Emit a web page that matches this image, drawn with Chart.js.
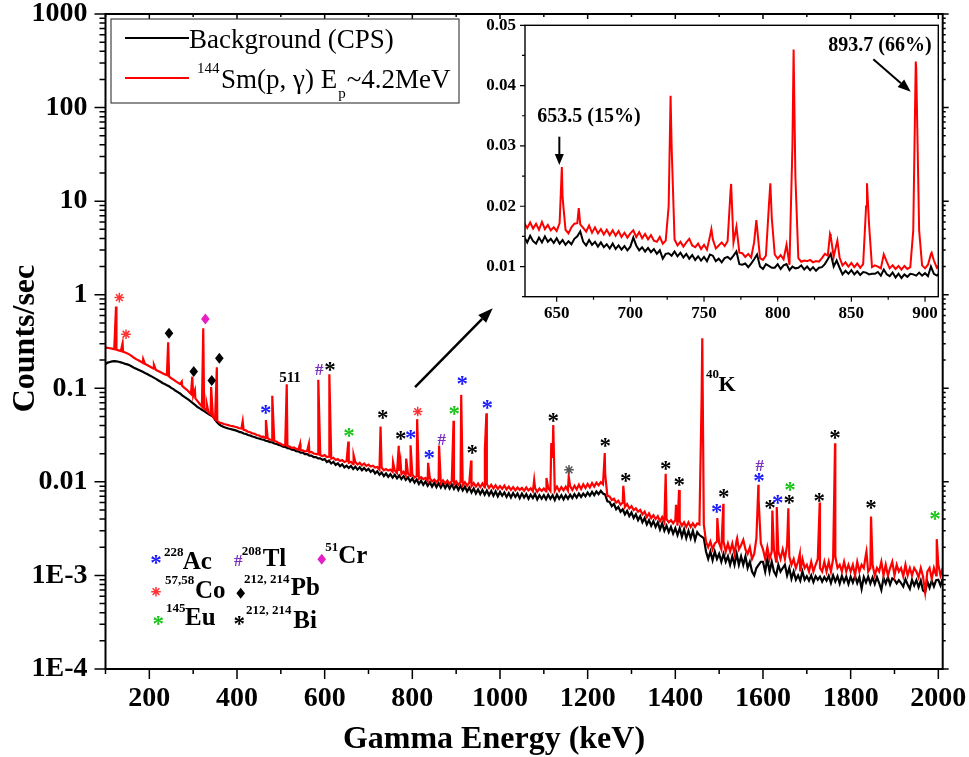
<!DOCTYPE html>
<html><head><meta charset="utf-8">
<script src="https://cdn.jsdelivr.net/npm/chart.js@4/dist/chart.umd.min.js"></script>
<style>
html,body{margin:0;padding:0;background:#fff;}
#wrap{position:relative;width:969px;height:757px;overflow:hidden;}
#main{position:absolute;left:0;top:0;width:969px;height:757px;}
#inset{position:absolute;left:470px;top:0;width:499px;height:340px;}
</style></head><body>
<div id="wrap"><canvas id="main" width="969" height="757"></canvas><canvas id="inset" width="499" height="340"></canvas></div>
<script>
// ---------------- DATA ----------------
// main spectrum: regular 5 keV grid starting at 100 keV
const MAIN_START_KEV = 100, MAIN_STEP_KEV = 5;
const mainRedCps = [
0.272,0.270,0.268,0.265,0.262,0.258,0.254,0.250,0.246,0.241,
0.236,0.229,0.221,0.212,0.205,0.199,0.193,0.187,0.182,0.177,
0.172,0.167,0.162,0.157,0.153,0.149,0.145,0.141,0.138,0.134,
0.128,0.124,0.119,0.115,0.111,0.106,0.101,0.097,0.092,0.087,
0.083,0.078,0.073,0.068,0.064,0.061,0.058,0.055,0.053,0.050,
0.047,0.045,0.043,0.0425,0.0415,0.0410,0.0404,0.0398,0.0394,0.0388,
0.0384,0.0374,0.0371,0.0360,0.0355,0.0343,0.0339,0.0330,0.0327,0.0317,
0.0314,0.0303,0.0304,0.0293,0.0294,0.0283,0.0281,0.0273,0.0270,0.0260,
0.0256,0.0246,0.0248,0.0241,0.0238,0.0230,0.0233,0.0225,0.0221,0.0219,
0.0217,0.0211,0.0214,0.0206,0.0209,0.0201,0.0199,0.0196,0.0193,0.0189,
0.0193,0.0184,0.0186,0.0177,0.0181,0.0171,0.0175,0.0167,0.0171,0.0163,
0.0167,0.0160,0.0164,0.0155,0.0163,0.0153,0.0160,0.0150,0.0157,0.0148,
0.0153,0.0146,0.0149,0.0142,0.0144,0.0135,0.0142,0.0133,0.0137,0.0132,
0.0135,0.0128,0.0132,0.0124,0.0131,0.0121,0.0128,0.0118,0.0123,0.0116,
0.0120,0.0111,0.0115,0.0108,0.0112,0.0107,0.0110,0.0102,0.0109,0.0101,
0.0106,0.0099,0.0106,0.0097,0.0104,0.0096,0.0103,0.0095,0.0102,0.0094,
0.0101,0.0093,0.0100,0.0092,0.0099,0.0091,0.0098,0.0090,0.0097,0.0089,
0.0096,0.0088,0.0096,0.0087,0.0095,0.0086,0.0093,0.0085,0.0092,0.0084,
0.0090,0.0084,0.0091,0.0083,0.0089,0.0082,0.0088,0.0081,0.0087,0.0082,
0.0086,0.0080,0.0087,0.0081,0.0085,0.0079,0.0086,0.0078,0.0085,0.0080,
0.0085,0.0079,0.0086,0.0080,0.0180,0.0080,0.0089,0.0080,0.0088,0.0081,
0.0089,0.0081,0.0090,0.0082,0.0091,0.0083,0.0093,0.0084,0.0094,0.0086,
0.0095,0.0087,0.0097,0.0089,0.0098,0.0092,0.0099,0.0094,0.0120,0.0071,
0.0070,0.0064,0.0066,0.0060,0.0063,0.0057,0.0060,0.0054,0.0058,0.0052,
0.0055,0.0050,0.0052,0.0048,0.0050,0.0045,0.0048,0.0042,0.0046,0.0041,
0.0044,0.0040,0.0043,0.0038,0.0042,0.0037,0.0040,0.0037,0.0039,0.0036,
0.0039,0.0034,0.0038,0.0034,0.0037,0.0033,0.0037,0.0033,0.0036,0.0033,
0.0036,0.0035,0.080,0.0035,0.0023,0.0020,0.0023,0.0019,0.0022,0.0023,
0.0022,0.0019,0.0023,0.0018,0.0022,0.0018,0.0022,0.0017,0.0024,0.0019,
0.0021,0.0024,0.0019,0.0017,0.0020,0.0015,0.0017,0.0025,0.0065,0.0022,
0.0019,0.0015,0.0020,0.0015,0.0018,0.0019,0.0014,0.0018,0.0015,0.0019,
0.0015,0.0021,0.0016,0.0013,0.0015,0.0012,0.0014,0.0011,0.0015,0.0012,
0.0013,0.0011,0.0014,0.0011,0.0013,0.0015,0.0012,0.0011,0.0014,0.0011,
0.0014,0.0011,0.0015,0.0016,0.0012,0.0013,0.0011,0.0014,0.0011,0.0013,
0.0011,0.0013,0.0010,0.0014,0.0011,0.0013,0.0012,0.0017,0.0011,0.0012,
0.0013,0.0010,0.0012,0.0011,0.0014,0.0010,0.0013,0.0010,0.0012,0.0014,
0.0010,0.0013,0.0011,0.0012,0.00098,0.0013,0.0010,0.0012,0.0010,0.0012,
0.0011,0.00095,0.0012,0.00098,0.00066,0.0011,0.0012,0.00092,0.0012,0.0010,
0.0013,0.0010,0.0012];
const mainBlackCps = [
0.182,0.188,0.191,0.194,0.195,0.194,0.192,0.189,0.186,0.182,
0.180,0.176,0.171,0.166,0.162,0.158,0.154,0.150,0.146,0.142,
0.138,0.134,0.130,0.126,0.122,0.118,0.114,0.111,0.108,0.105,
0.101,0.098,0.094,0.091,0.088,0.084,0.081,0.078,0.075,0.072,
0.069,0.066,0.063,0.061,0.059,0.057,0.055,0.053,0.0515,0.050,
0.046,0.043,0.041,0.0395,0.0385,0.0378,0.0372,0.0367,0.0362,0.0357,
0.0351,0.0342,0.0338,0.0329,0.0326,0.0317,0.0313,0.0305,0.0302,0.0294,
0.0291,0.0285,0.0283,0.0275,0.0273,0.0266,0.0265,0.0257,0.0255,0.0248,
0.0245,0.0238,0.0237,0.0229,0.0228,0.0221,0.0220,0.0213,0.0212,0.0205,
0.0205,0.0198,0.0198,0.0191,0.0191,0.0184,0.0184,0.0178,0.0178,0.0172,
0.0175,0.0163,0.0169,0.0157,0.0164,0.0152,0.0158,0.0147,0.0154,0.0143,
0.0149,0.0141,0.0148,0.0137,0.0145,0.0135,0.0143,0.0133,0.0141,0.0132,
0.0138,0.0128,0.0134,0.0123,0.0130,0.0119,0.0126,0.0115,0.0123,0.0113,
0.0121,0.0111,0.0119,0.0109,0.0117,0.0107,0.0115,0.0105,0.0112,0.0101,
0.0109,0.0098,0.0106,0.0095,0.0103,0.0093,0.0101,0.0091,0.0099,0.0089,
0.0098,0.0088,0.0097,0.0087,0.0096,0.0086,0.0095,0.0085,0.0094,0.0084,
0.0092,0.0082,0.0091,0.0081,0.0089,0.0079,0.0087,0.0077,0.0085,0.0075,
0.0083,0.0074,0.0082,0.0073,0.0081,0.0072,0.0080,0.0071,0.0079,0.0070,
0.0078,0.0071,0.0077,0.0069,0.0076,0.0068,0.0076,0.0069,0.0075,0.0067,
0.0075,0.0068,0.0074,0.0066,0.0073,0.0067,0.0074,0.0065,0.0072,0.0066,
0.0072,0.0065,0.0073,0.0066,0.0072,0.0064,0.0073,0.0066,0.0072,0.0065,
0.0072,0.0066,0.0073,0.0067,0.0074,0.0068,0.0075,0.0069,0.0075,0.0070,
0.0077,0.0071,0.0078,0.0072,0.0079,0.0074,0.0080,0.0075,0.0073,0.0062,
0.0061,0.0055,0.0058,0.0051,0.0054,0.0048,0.0051,0.0045,0.0049,0.0043,
0.0047,0.0041,0.0045,0.0039,0.0043,0.0037,0.0041,0.0035,0.0039,0.0034,
0.0038,0.0033,0.0037,0.0031,0.0036,0.0030,0.0034,0.0029,0.0033,0.0028,
0.0032,0.0027,0.0032,0.0026,0.0031,0.0025,0.0030,0.0025,0.0030,0.0024,
0.0029,0.0027,0.0026,0.0025,0.00180,0.00150,0.0018,0.00145,0.0018,0.00150,
0.0017,0.0014,0.0017,0.0014,0.0016,0.0013,0.0016,0.0013,0.0017,0.0013,
0.0016,0.0013,0.0016,0.0012,0.0014,0.0011,0.0010,0.0012,0.0013,0.0014,
0.0014,0.0011,0.0015,0.0011,0.0014,0.0011,0.0010,0.0013,0.0011,0.0012,
0.0013,0.0010,0.0012,0.00092,0.0011,0.00090,0.0010,0.00088,0.0011,0.00090,
0.00098,0.00088,0.00100,0.00085,0.00098,0.00090,0.00097,0.00086,0.00096,0.00088,
0.00099,0.00083,0.00100,0.00086,0.00098,0.00082,0.00099,0.00085,0.00097,0.00081,
0.00097,0.00084,0.00099,0.00083,0.00096,0.00072,0.00096,0.00084,0.00097,0.00082,
0.00095,0.00081,0.00096,0.00083,0.00070,0.00094,0.00082,0.00096,0.00080,0.00093,
0.00090,0.00082,0.00089,0.00083,0.00076,0.00091,0.00080,0.00072,0.00090,0.00078,
0.00089,0.00075,0.00088,0.00069,0.00066,0.00086,0.00074,0.00088,0.00076,0.00089,
0.00090,0.00078,0.00092];
// peak apexes (keV, counts/sec)
const mainRedPeakKeV = [124,139,186,210.5,243,274,298,304,323,331,341,354,413,466,480.5,513.5,544,564,585.5,610.7,
 654,666,727.5,756,769,773,786,796,811,836,861,894,911.5,934,965.5,969,1078,1106,1117,1121.5,
 1156.8,1239,1281.4,1378,1401.6,1408.5,1461.5,1495.8,1509.5,1541,1589.5,1621.4,1631.4,1657.8,1684,1729.4,1764.4,1836,1846.5,1996.4];
const mainRedPeakCps = [0.746,0.303,0.205,0.178,0.31,0.118,0.133,0.095,0.438,0.068,0.103,0.168,0.0445,0.0457,0.083,0.1106,0.0256,0.0256,0.1235,0.1416,
 0.027,0.0194,0.039,0.0162,0.0243,0.0166,0.0177,0.0246,0.0468,0.016,0.0245,0.0449,0.085,0.0169,0.022,0.0542,0.0105,0.011,0.026,0.0406,
 0.0114,0.0203,0.00907,0.0122,0.00568,0.0082,0.343,0.0041,0.00582,0.0025,0.0093,0.00494,0.00537,0.00523,0.0017,0.006,0.0259,0.0018,0.00427,0.00244];
const mainBlackPeakKeV = [];
const mainBlackPeakCps = [];

// inset spectrum: regular 2 keV grid starting at 628 keV
const INSET_START_KEV = 628, INSET_STEP_KEV = 2;
const insetRedCps = [
0.0172,0.0164,0.0173,0.0163,0.0171,0.0161,0.0174,0.0162,0.0169,0.0160,
0.0165,0.0159,0.0172,0.0215,0.0161,0.0155,0.0165,0.0171,0.0172,0.0170,
0.0164,0.0158,0.0168,0.0156,0.0165,0.0155,0.0162,0.0153,0.0161,0.0152,
0.0160,0.0151,0.0159,0.0149,0.0156,0.0148,0.0155,0.0160,0.0149,0.0157,
0.0147,0.0154,0.0145,0.0152,0.0143,0.0141,0.0149,0.0138,0.0143,0.0200,
0.0300,0.0145,0.0135,0.0141,0.0133,0.0140,0.0146,0.0135,0.0132,0.0138,
0.0129,0.0136,0.0128,0.0150,0.0145,0.0130,0.0135,0.0140,0.0134,0.0142,
0.0225,0.0140,0.0166,0.0123,0.0122,0.0116,0.0121,0.0115,0.0140,0.0165,
0.0114,0.0111,0.0118,0.0200,0.0180,0.0120,0.0113,0.0119,0.0112,0.0136,
0.0103,0.0300,0.0250,0.0114,0.0108,0.0110,0.0109,0.0111,0.0107,0.0109,
0.0108,0.0114,0.0121,0.0118,0.0150,0.0116,0.0138,0.0115,0.0102,0.0107,
0.0100,0.0106,0.0099,0.0105,0.0098,0.0104,0.0200,0.0170,0.0099,0.0102,
0.0100,0.0097,0.0120,0.0108,0.0097,0.0102,0.0096,0.0101,0.0095,0.0101,
0.0096,0.0099,0.0160,0.0430,0.0160,0.0102,0.0097,0.0103,0.0121,0.0110,
0.0098,0.0103];
const insetBlackCps = [
0.0149,0.0140,0.0151,0.0142,0.0138,0.0148,0.0140,0.0150,0.0141,0.0146,
0.0139,0.0147,0.0138,0.0144,0.0136,0.0142,0.0137,0.0146,0.0150,0.0158,
0.0141,0.0135,0.0144,0.0136,0.0141,0.0133,0.0140,0.0132,0.0137,0.0130,
0.0138,0.0129,0.0135,0.0128,0.0134,0.0127,0.0133,0.0148,0.0135,0.0127,
0.0132,0.0125,0.0131,0.0124,0.0129,0.0121,0.0127,0.0113,0.0121,0.0122,
0.0118,0.0125,0.0117,0.0123,0.0115,0.0121,0.0113,0.0119,0.0111,0.0117,
0.0110,0.0116,0.0109,0.0120,0.0118,0.0109,0.0113,0.0107,0.0114,0.0116,
0.0112,0.0118,0.0125,0.0104,0.0103,0.0105,0.0099,0.0105,0.0112,0.0120,
0.0100,0.0096,0.0104,0.0101,0.0098,0.0098,0.0104,0.0096,0.0102,0.0104,
0.0094,0.0100,0.0097,0.0098,0.0102,0.0095,0.0100,0.0094,0.0099,0.0093,
0.0098,0.0099,0.0104,0.0112,0.0121,0.0100,0.0110,0.0098,0.0087,0.0093,
0.0088,0.0094,0.0087,0.0092,0.0086,0.0091,0.0090,0.0087,0.0088,0.0088,
0.0091,0.0085,0.0095,0.0087,0.0084,0.0090,0.0082,0.0088,0.0081,0.0087,
0.0083,0.0088,0.0087,0.0085,0.0090,0.0085,0.0089,0.0084,0.0100,0.0088,
0.0085,0.0090];
const insetRedPeakKeV = [653.5,665,727.3,755,768.4,785.5,795,810.8,835.5,840.5,860.6,893.7,904.5];
const insetRedPeakCps = [0.0265,0.0197,0.0383,0.0162,0.0237,0.0177,0.0238,0.046,0.0154,0.0143,0.0238,0.044,0.0123];
const insetBlackPeakKeV = [];
const insetBlackPeakCps = [];

// tick labels
const xTickValues = [200,400,600,800,1000,1200,1400,1600,1800,2000];
const yTickValues = [1e-4,1e-3,0.01,0.1,1,10,100,1000];
const yTickLabels = ['1E-4','1E-3','0.01','0.1','1','10','100','1000'];
const insetXTickValues = [650,700,750,800,850,900];
const insetYTickValues = [0.01,0.02,0.03,0.04,0.05];
const insetYTickLabels = ['0.01','0.02','0.03','0.04','0.05'];

// isotope markers above peaks (keV, counts/sec of the marker, isotope)
const markKeV = [131.6,146.8,244.9,327.8,301.3,342.4,359.7,465.5,587.8,612.3,655.6,732.5,773.5,796.4,812.3,838.8,867,895.8,914,936.9,
 971.1,1121.7,1157.5,1240.3,1286.9,1378.1,1409.1,1494.4,1510.5,1591,1592.5,1616,1633.6,1660,1661.7,1728.5,1764.3,1846.5,1992.5];
const markCps = [0.931,0.378,0.388,0.551,0.151,0.121,0.21,0.0588,0.157,0.1706,0.034,0.052,0.031,0.0318,0.0564,0.0194,0.0286,0.0573,0.12,0.0223,
 0.0676,0.0491,0.01343,0.0263,0.0112,0.0149,0.01007,0.00524,0.00757,0.0112,0.0149,0.00568,0.00643,0.00654,0.0089,0.00685,0.0323,0.00568,0.00434];
const markIso = ['Co','Co','Pb','Cr','Pb','Pb','Pb','Ac','Tl','Bi','Eu','Bi','Bi','Ac','Co','Ac','Tl','Eu','Ac','Bi',
 'Ac','Bi','BiX','Bi','Bi','Bi','Bi','Ac','Bi','Ac','Tl','Bi','Ac','Bi','Eu','Bi','Bi','Bi','Eu'];

// isotope key
const keyIso = ['Ac','Tl','Cr','Co','Pb','Eu','Bi'];
const keyMass = ['228','208','51','57,58','212, 214','145','212, 214'];

// ---------------- STYLE / LAYOUT ----------------
const SERIF = '"Liberation Serif","Times New Roman",serif';
const isoStyle = {
  Ac:{sym:'star',color:'#1a1aff'}, Co:{sym:'co',color:'#ff3333'}, Eu:{sym:'star',color:'#19c419'},
  Tl:{sym:'hash',color:'#7a2fc2'}, Pb:{sym:'diamond',color:'#000'}, Cr:{sym:'diamond',color:'#e51ec6'},
  Bi:{sym:'star',color:'#000'}, BiX:{sym:'co',color:'#555'}
};
// key layout: symbol x,y ; superscript x, baseline ; name x, baseline
const keyLayout = [
 [156,559.3,164,556,182.7,569.3],
 [238.3,560,241.7,555,262.7,566],
 [321.7,559.3,325.3,550.7,338.3,563.3],
 [156,591.7,165,584,195,598.3],
 [240.7,593.3,244,583.3,290.7,595],
 [158.3,620,166,611.7,185,625],
 [239.3,620,246,614,293.3,628.3]
];

function buildSeries(start, step, cps, pkKeV, pkCps) {
  const pts = cps.map((v, i) => ({x: start + i * step, y: v}));
  pkKeV.forEach((e, i) => pts.push({x: e, y: pkCps[i]}));
  pts.sort((a, b) => a.x - b.x);
  return pts;
}
function centerText(ctx, t, x, y) {
  ctx.textAlign = 'center'; ctx.textBaseline = 'alphabetic';
  const m = ctx.measureText(t);
  ctx.fillText(t, x, y + (m.actualBoundingBoxAscent - m.actualBoundingBoxDescent) / 2);
}
function drawSym(ctx, iso, x, y) {
  const st = isoStyle[iso];
  ctx.save();
  ctx.fillStyle = st.color; ctx.strokeStyle = st.color;
  if (st.sym === 'star') {
    ctx.font = 'bold 23px ' + SERIF; centerText(ctx, '*', x, y);
  } else if (st.sym === 'hash') {
    ctx.font = 'bold 17px ' + SERIF; centerText(ctx, '#', x, y);
  } else if (st.sym === 'diamond') {
    ctx.beginPath(); ctx.moveTo(x, y - 5.5); ctx.lineTo(x + 4.3, y); ctx.lineTo(x, y + 5.5); ctx.lineTo(x - 4.3, y); ctx.closePath(); ctx.fill();
  } else if (st.sym === 'co') {
    ctx.lineWidth = 1.5; ctx.beginPath();
    for (let k = 0; k < 4; k++) {
      const a = k * Math.PI / 4;
      ctx.moveTo(x - 4.8 * Math.sin(a), y - 4.8 * Math.cos(a));
      ctx.lineTo(x + 4.8 * Math.sin(a), y + 4.8 * Math.cos(a));
    }
    ctx.stroke();
  }
  ctx.restore();
}
function arrow(ctx, x0, y0, x1, y1, lw, hl, hw) {
  const a = Math.atan2(y1 - y0, x1 - x0);
  const bx = x1 - hl * Math.cos(a), by = y1 - hl * Math.sin(a);
  ctx.lineWidth = lw; ctx.beginPath(); ctx.moveTo(x0, y0); ctx.lineTo(bx, by); ctx.stroke();
  ctx.beginPath(); ctx.moveTo(x1, y1);
  ctx.lineTo(bx + hw * Math.sin(a), by - hw * Math.cos(a));
  ctx.lineTo(bx - hw * Math.sin(a), by + hw * Math.cos(a));
  ctx.closePath(); ctx.fill();
}

const mainOverlay = {
  id: 'mainOverlay',
  afterDraw(chart) {
    const {ctx, chartArea: a, scales: {x, y}} = chart;
    ctx.save();
    ctx.strokeStyle = '#000'; ctx.fillStyle = '#000';
    // ticks
    ctx.lineWidth = 1.5; ctx.beginPath();
    for (let e = 100; e <= 2000; e += 100) {
      const px = x.getPixelForValue(e), major = e % 200 === 0;
      ctx.moveTo(px, a.bottom); ctx.lineTo(px, a.bottom + (major ? 10 : 5));
      ctx.moveTo(px, a.top); ctx.lineTo(px, a.top + (major ? 5 : 3));
    }
    for (let n = -4; n <= 3; n++) for (let k = 1; k <= 9; k++) {
      const v = k * Math.pow(10, n); if (v > 1000.01) break;
      const py = y.getPixelForValue(v);
      ctx.moveTo(a.left - (k === 1 ? 11 : 6), py); ctx.lineTo(a.left, py);
      ctx.moveTo(a.right, py); ctx.lineTo(a.right + (k === 1 ? 6 : 3), py);
    }
    ctx.stroke();
    ctx.lineWidth = 2; ctx.strokeRect(a.left, a.top, a.right - a.left, a.bottom - a.top);
    // isotope marks
    markKeV.forEach((e, i) => drawSym(ctx, markIso[i], x.getPixelForValue(e), y.getPixelForValue(markCps[i])));
    // 511 and 40K labels
    ctx.fillStyle = '#000'; ctx.textBaseline = 'alphabetic';
    ctx.font = 'bold 15px ' + SERIF; ctx.textAlign = 'center';
    ctx.fillText('511', x.getPixelForValue(521), y.getPixelForValue(0.117));
    const kx = x.getPixelForValue(1470), ky = y.getPixelForValue(0.0945);
    ctx.textAlign = 'left';
    ctx.font = 'bold 13px ' + SERIF; ctx.fillText('40', kx, ky - 13);
    ctx.font = 'bold 22px ' + SERIF; ctx.fillText('K', kx + 12.5, ky);
    // arrow to inset
    arrow(ctx, x.getPixelForValue(806.2), y.getPixelForValue(0.1028), x.getPixelForValue(983.4), y.getPixelForValue(0.7175), 2.5, 15, 5.5);
    // legend box
    ctx.fillStyle = '#fff'; ctx.fillRect(111, 19, 348, 84);
    ctx.strokeStyle = '#444'; ctx.lineWidth = 1.2; ctx.strokeRect(111, 19, 348, 84);
    ctx.lineWidth = 2;
    ctx.strokeStyle = '#000'; ctx.beginPath(); ctx.moveTo(125, 38); ctx.lineTo(189, 38); ctx.stroke();
    ctx.strokeStyle = '#ff0000'; ctx.beginPath(); ctx.moveTo(125, 78); ctx.lineTo(189, 78); ctx.stroke();
    ctx.fillStyle = '#000'; ctx.textAlign = 'left';
    ctx.font = '27px ' + SERIF; ctx.fillText('Background (CPS)', 189, 48);
    ctx.font = '15px ' + SERIF; ctx.fillText('144', 197, 72.5);
    ctx.font = '27px ' + SERIF;
    let lx = 221; const s1 = 'Sm(p, \u03b3) E';
    ctx.fillText(s1, lx, 88.3); lx += ctx.measureText(s1).width + 1;
    ctx.font = '15px ' + SERIF; ctx.fillText('p', lx, 98); lx += ctx.measureText('p').width + 1;
    ctx.font = '27px ' + SERIF; ctx.fillText('~4.2MeV', lx, 88.3);
    // isotope key
    keyIso.forEach((iso, i) => {
      const L = keyLayout[i];
      drawSym(ctx, iso, L[0], L[1]);
      ctx.fillStyle = '#000'; ctx.textAlign = 'left'; ctx.textBaseline = 'alphabetic';
      ctx.font = 'bold 13px ' + SERIF; ctx.fillText(keyMass[i], L[2], L[3]);
      ctx.font = 'bold 25px ' + SERIF; ctx.fillText(iso, L[4], L[5]);
    });
    // axis titles
    ctx.font = 'bold 32px ' + SERIF; ctx.textAlign = 'center'; ctx.fillStyle = '#000';
    ctx.fillText('Gamma Energy (keV)', 494, 748);
    ctx.save(); ctx.translate(34, 338.5); ctx.rotate(-Math.PI / 2);
    ctx.fillText('Counts/sec', 0, 0); ctx.restore();
    ctx.restore();
  }
};

const insetOverlay = {
  id: 'insetOverlay',
  afterDraw(chart) {
    const {ctx, chartArea: a, scales: {x, y}} = chart;
    ctx.save();
    ctx.strokeStyle = '#000'; ctx.fillStyle = '#000';
    ctx.lineWidth = 1.2; ctx.beginPath();
    for (let e = 650; e <= 900; e += 25) {
      const px = x.getPixelForValue(e);
      ctx.moveTo(px, a.bottom); ctx.lineTo(px, a.bottom + (e % 50 === 0 ? 5 : 3));
    }
    for (let v = 0.005; v <= 0.0501; v += 0.005) {
      const py = y.getPixelForValue(v), major = Math.abs(v * 100 - Math.round(v * 100)) < 1e-6;
      ctx.moveTo(a.left - (major ? 5 : 3), py); ctx.lineTo(a.left, py);
    }
    ctx.stroke();
    ctx.lineWidth = 1.4; ctx.strokeRect(a.left, a.top, a.right - a.left, a.bottom - a.top);
    // arrows and notes
    arrow(ctx, x.getPixelForValue(651.8), y.getPixelForValue(0.03153), x.getPixelForValue(651.8), y.getPixelForValue(0.02683), 2, 11, 4.5);
    arrow(ctx, x.getPixelForValue(864.9), y.getPixelForValue(0.04436), x.getPixelForValue(890.3), y.getPixelForValue(0.03899), 2, 13, 5);
    ctx.font = 'bold 20px ' + SERIF; ctx.textAlign = 'left'; ctx.textBaseline = 'alphabetic';
    ctx.fillText('653.5 (15%)', x.getPixelForValue(636.8), y.getPixelForValue(0.03401));
    ctx.fillText('893.7 (66%)', x.getPixelForValue(834.3), y.getPixelForValue(0.04579));
    ctx.restore();
  }
};

const tickFont = {family: SERIF, size: 28, weight: 'bold', lineHeight: 1};
new Chart(document.getElementById('main'), {
  type: 'line',
  data: {datasets: [
    {label: '144Sm(p, \u03b3) Ep~4.2MeV', order: 1, data: buildSeries(MAIN_START_KEV, MAIN_STEP_KEV, mainRedCps, mainRedPeakKeV, mainRedPeakCps),
     borderColor: '#ff0000', borderWidth: 2.2, pointRadius: 0, fill: false, tension: 0},
    {label: 'Background (CPS)', order: 2, data: buildSeries(MAIN_START_KEV, MAIN_STEP_KEV, mainBlackCps, mainBlackPeakKeV, mainBlackPeakCps),
     borderColor: '#000', borderWidth: 2.2, pointRadius: 0, fill: false, tension: 0}
  ]},
  options: {
    responsive: false, animation: false, events: [],
    layout: {padding: {left: 0, top: 14, right: 26.3, bottom: 0}},
    plugins: {legend: {display: false}, tooltip: {enabled: false}},
    scales: {
      x: {type: 'linear', min: 100, max: 2010,
        afterBuildTicks: s => { s.ticks = xTickValues.map(v => ({value: v})); },
        afterFit: s => { s.height = 88; s.paddingLeft = 0; s.paddingRight = 0; },
        grid: {display: false, drawTicks: false}, border: {display: false},
        ticks: {autoSkip: false, maxRotation: 0, padding: 16, color: '#000', font: tickFont, callback: v => String(v)}},
      y: {type: 'logarithmic', min: 1e-4, max: 1000,
        afterBuildTicks: s => { s.ticks = yTickValues.map(v => ({value: v})); },
        afterFit: s => { s.width = 105.5; s.paddingTop = 0; s.paddingBottom = 0; },
        grid: {display: false, drawTicks: false}, border: {display: false},
        ticks: {autoSkip: false, padding: 18, color: '#000', font: tickFont, callback: (v, i) => yTickLabels[i]}}
    }
  },
  plugins: [mainOverlay]
});

const insetFont = {family: SERIF, size: 17, weight: 'bold', lineHeight: 1};
new Chart(document.getElementById('inset'), {
  type: 'line',
  data: {datasets: [
    {order: 1, data: buildSeries(INSET_START_KEV, INSET_STEP_KEV, insetRedCps, insetRedPeakKeV, insetRedPeakCps),
     borderColor: '#ff0000', borderWidth: 2, pointRadius: 0, fill: false, tension: 0},
    {order: 2, data: buildSeries(INSET_START_KEV, INSET_STEP_KEV, insetBlackCps, insetBlackPeakKeV, insetBlackPeakCps),
     borderColor: '#000', borderWidth: 2, pointRadius: 0, fill: false, tension: 0}
  ]},
  options: {
    responsive: false, animation: false, events: [],
    layout: {padding: {left: 0, top: 25.3, right: 30.7, bottom: 0}},
    plugins: {legend: {display: false}, tooltip: {enabled: false}},
    scales: {
      x: {type: 'linear', min: 628.5, max: 909,
        afterBuildTicks: s => { s.ticks = insetXTickValues.map(v => ({value: v})); },
        afterFit: s => { s.height = 43.3; s.paddingLeft = 0; s.paddingRight = 0; },
        grid: {display: false, drawTicks: false}, border: {display: false},
        ticks: {autoSkip: false, maxRotation: 0, padding: 8, color: '#000', font: insetFont, callback: v => String(v)}},
      y: {type: 'linear', min: 0.005, max: 0.05,
        afterBuildTicks: s => { s.ticks = insetYTickValues.map(v => ({value: v})); },
        afterFit: s => { s.width = 55; s.paddingTop = 0; s.paddingBottom = 0; },
        grid: {display: false, drawTicks: false}, border: {display: false},
        ticks: {autoSkip: false, padding: 9, color: '#000', font: insetFont, callback: (v, i) => insetYTickLabels[i]}}
    }
  },
  plugins: [insetOverlay]
});
</script>
</body></html>
